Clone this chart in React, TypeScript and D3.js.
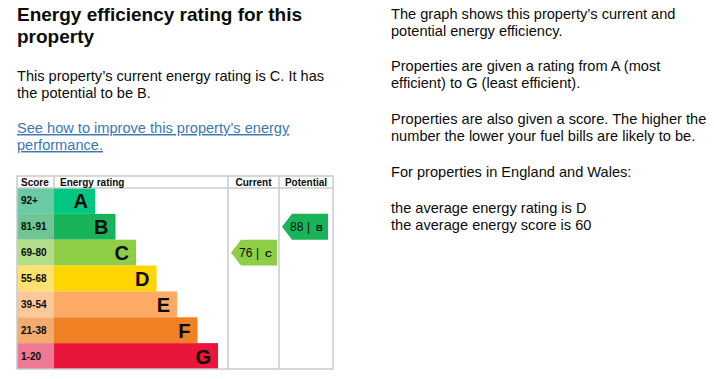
import React from "react";
import * as d3 from "d3";

const bands = ["A", "B", "C", "D", "E", "F", "G"];
const scoreRanges = ["92+", "81-91", "69-80", "55-68", "39-54", "21-38", "1-20"];
const barLevels = [1, 2, 3, 4, 5, 6, 7];
const bandColors = ["#00c781", "#19b459", "#8dce46", "#ffd500", "#fcaa65", "#ef8023", "#e9153b"];
const scoreColors = ["#68cba6", "#70c594", "#b2dd8a", "#ffe170", "#fcc899", "#f3ab6e", "#ef7892"];
const currentRating = { score: 76, band: "C" };
const potentialRating = { score: 88, band: "B" };

const leftTitle = ["Energy efficiency rating for this", "property"];
const leftPara = ["This property\u2019s current energy rating is C. It has", "the potential to be B."];
const leftLink = ["See how to improve this property\u2019s energy", "performance."];
const rightParas = [
  { y: 19, lines: ["The graph shows this property\u2019s current and", "potential energy efficiency."] },
  { y: 71, lines: ["Properties are given a rating from A (most", "efficient) to G (least efficient)."] },
  { y: 124, lines: ["Properties are also given a score. The higher the", "number the lower your fuel bills are likely to be."] },
  { y: 177, lines: ["For properties in England and Wales:"] },
  { y: 213, lines: ["the average energy rating is D", "the average energy score is 60"] },
];

const FONT = "Arial, 'Liberation Sans', sans-serif";
const INK = "#0b0c0c";
const GRID = "#c8cacc";

export default function App() {
  const tLeft = 17, tRight = 333, tTop = 176, headBottom = 188, tBottom = 369;
  const scoreRight = 54, curLeft = 228, potLeft = 279;

  const y = d3.scaleBand<string>().domain(bands).range([headBottom, tBottom]).padding(0);
  const x = d3.scaleLinear().domain([1, 7]).range([95, 218]);
  const bh = y.bandwidth();

  const arrow = (left: number, band: string, score: number, color: string) => {
    const y0 = y(band)!;
    const tip = left + 3;
    const shoulder = tip + 10;
    const r = tip + 46;
    const path = d3.path();
    path.moveTo(tip, y0 + bh / 2);
    path.lineTo(shoulder, y0);
    path.lineTo(r, y0);
    path.lineTo(r, y0 + bh);
    path.lineTo(shoulder, y0 + bh);
    path.closePath();
    const ty = y0 + bh / 2 + 4.5;
    return (
      <g>
        <path d={path.toString()} fill={color} />
        <text x={tip + 8} y={ty} fontSize={12} fill={INK} fontFamily={FONT}>{score}</text>
        <text x={tip + 25} y={ty} fontSize={12} fill={INK} fontFamily={FONT}>|</text>
        <text x={tip + 34} y={ty - 0.5} fontSize={9.5} fontWeight="bold" fill={INK} fontFamily={FONT}>{band}</text>
      </g>
    );
  };

  return (
    <svg width={714} height={379} style={{ position: "absolute", left: 0, top: 0 }} fontFamily={FONT}>
      <rect width={714} height={379} fill="#fff" />
      {leftTitle.map((t, i) => (
        <text key={t} x={17} y={21 + i * 22} fontSize={19} fontWeight="bold" fill={INK}>{t}</text>
      ))}
      {leftPara.map((t, i) => (
        <text key={t} x={17} y={81 + i * 17} fontSize={14.6} fill={INK}>{t}</text>
      ))}
      {leftLink.map((t, i) => (
        <text key={t} x={17} y={133 + i * 17} fontSize={14.6} fill="#3b78b4" textDecoration="underline">{t}</text>
      ))}
      {rightParas.map((p) =>
        p.lines.map((t, i) => (
          <text key={t} x={391} y={p.y + i * 16.5} fontSize={14.6} fill={INK}>{t}</text>
        ))
      )}

      {/* table */}
      {bands.map((b, i) => (
        <g key={b}>
          <rect x={tLeft} y={y(b)!} width={scoreRight - tLeft} height={bh} fill={scoreColors[i]} />
          <rect x={scoreRight} y={y(b)!} width={x(barLevels[i]) - scoreRight} height={bh} fill={bandColors[i]} />
          <text x={21} y={y(b)! + bh / 2 + 3.5} fontSize={10} fontWeight="bold" fill={INK}>{scoreRanges[i]}</text>
          <text x={x(barLevels[i]) - 7} y={y(b)! + bh / 2 + 7.5} fontSize={20} fontWeight="bold" fill={INK} textAnchor="end">{b}</text>
        </g>
      ))}
      <rect x={tLeft} y={tTop} width={tRight - tLeft} height={tBottom - tTop} fill="none" stroke={GRID} strokeWidth={1.5} />
      <line x1={tLeft} x2={tRight} y1={headBottom} y2={headBottom} stroke={GRID} strokeWidth={1.5} />
      <line x1={scoreRight} x2={scoreRight} y1={tTop} y2={headBottom} stroke={GRID} strokeWidth={1.5} />
      <line x1={curLeft} x2={curLeft} y1={tTop} y2={tBottom} stroke={GRID} strokeWidth={1.5} />
      <line x1={potLeft} x2={potLeft} y1={tTop} y2={tBottom} stroke={GRID} strokeWidth={1.5} />
      <text x={21} y={186} fontSize={10} fontWeight="bold" fill={INK}>Score</text>
      <text x={60} y={186} fontSize={10} fontWeight="bold" fill={INK}>Energy rating</text>
      <text x={(curLeft + potLeft) / 2} y={186} fontSize={10} fontWeight="bold" fill={INK} textAnchor="middle">Current</text>
      <text x={(potLeft + tRight) / 2} y={186} fontSize={10} fontWeight="bold" fill={INK} textAnchor="middle">Potential</text>

      {arrow(curLeft, currentRating.band, currentRating.score, bandColors[bands.indexOf(currentRating.band)])}
      {arrow(potLeft, potentialRating.band, potentialRating.score, bandColors[bands.indexOf(potentialRating.band)])}
    </svg>
  );
}
